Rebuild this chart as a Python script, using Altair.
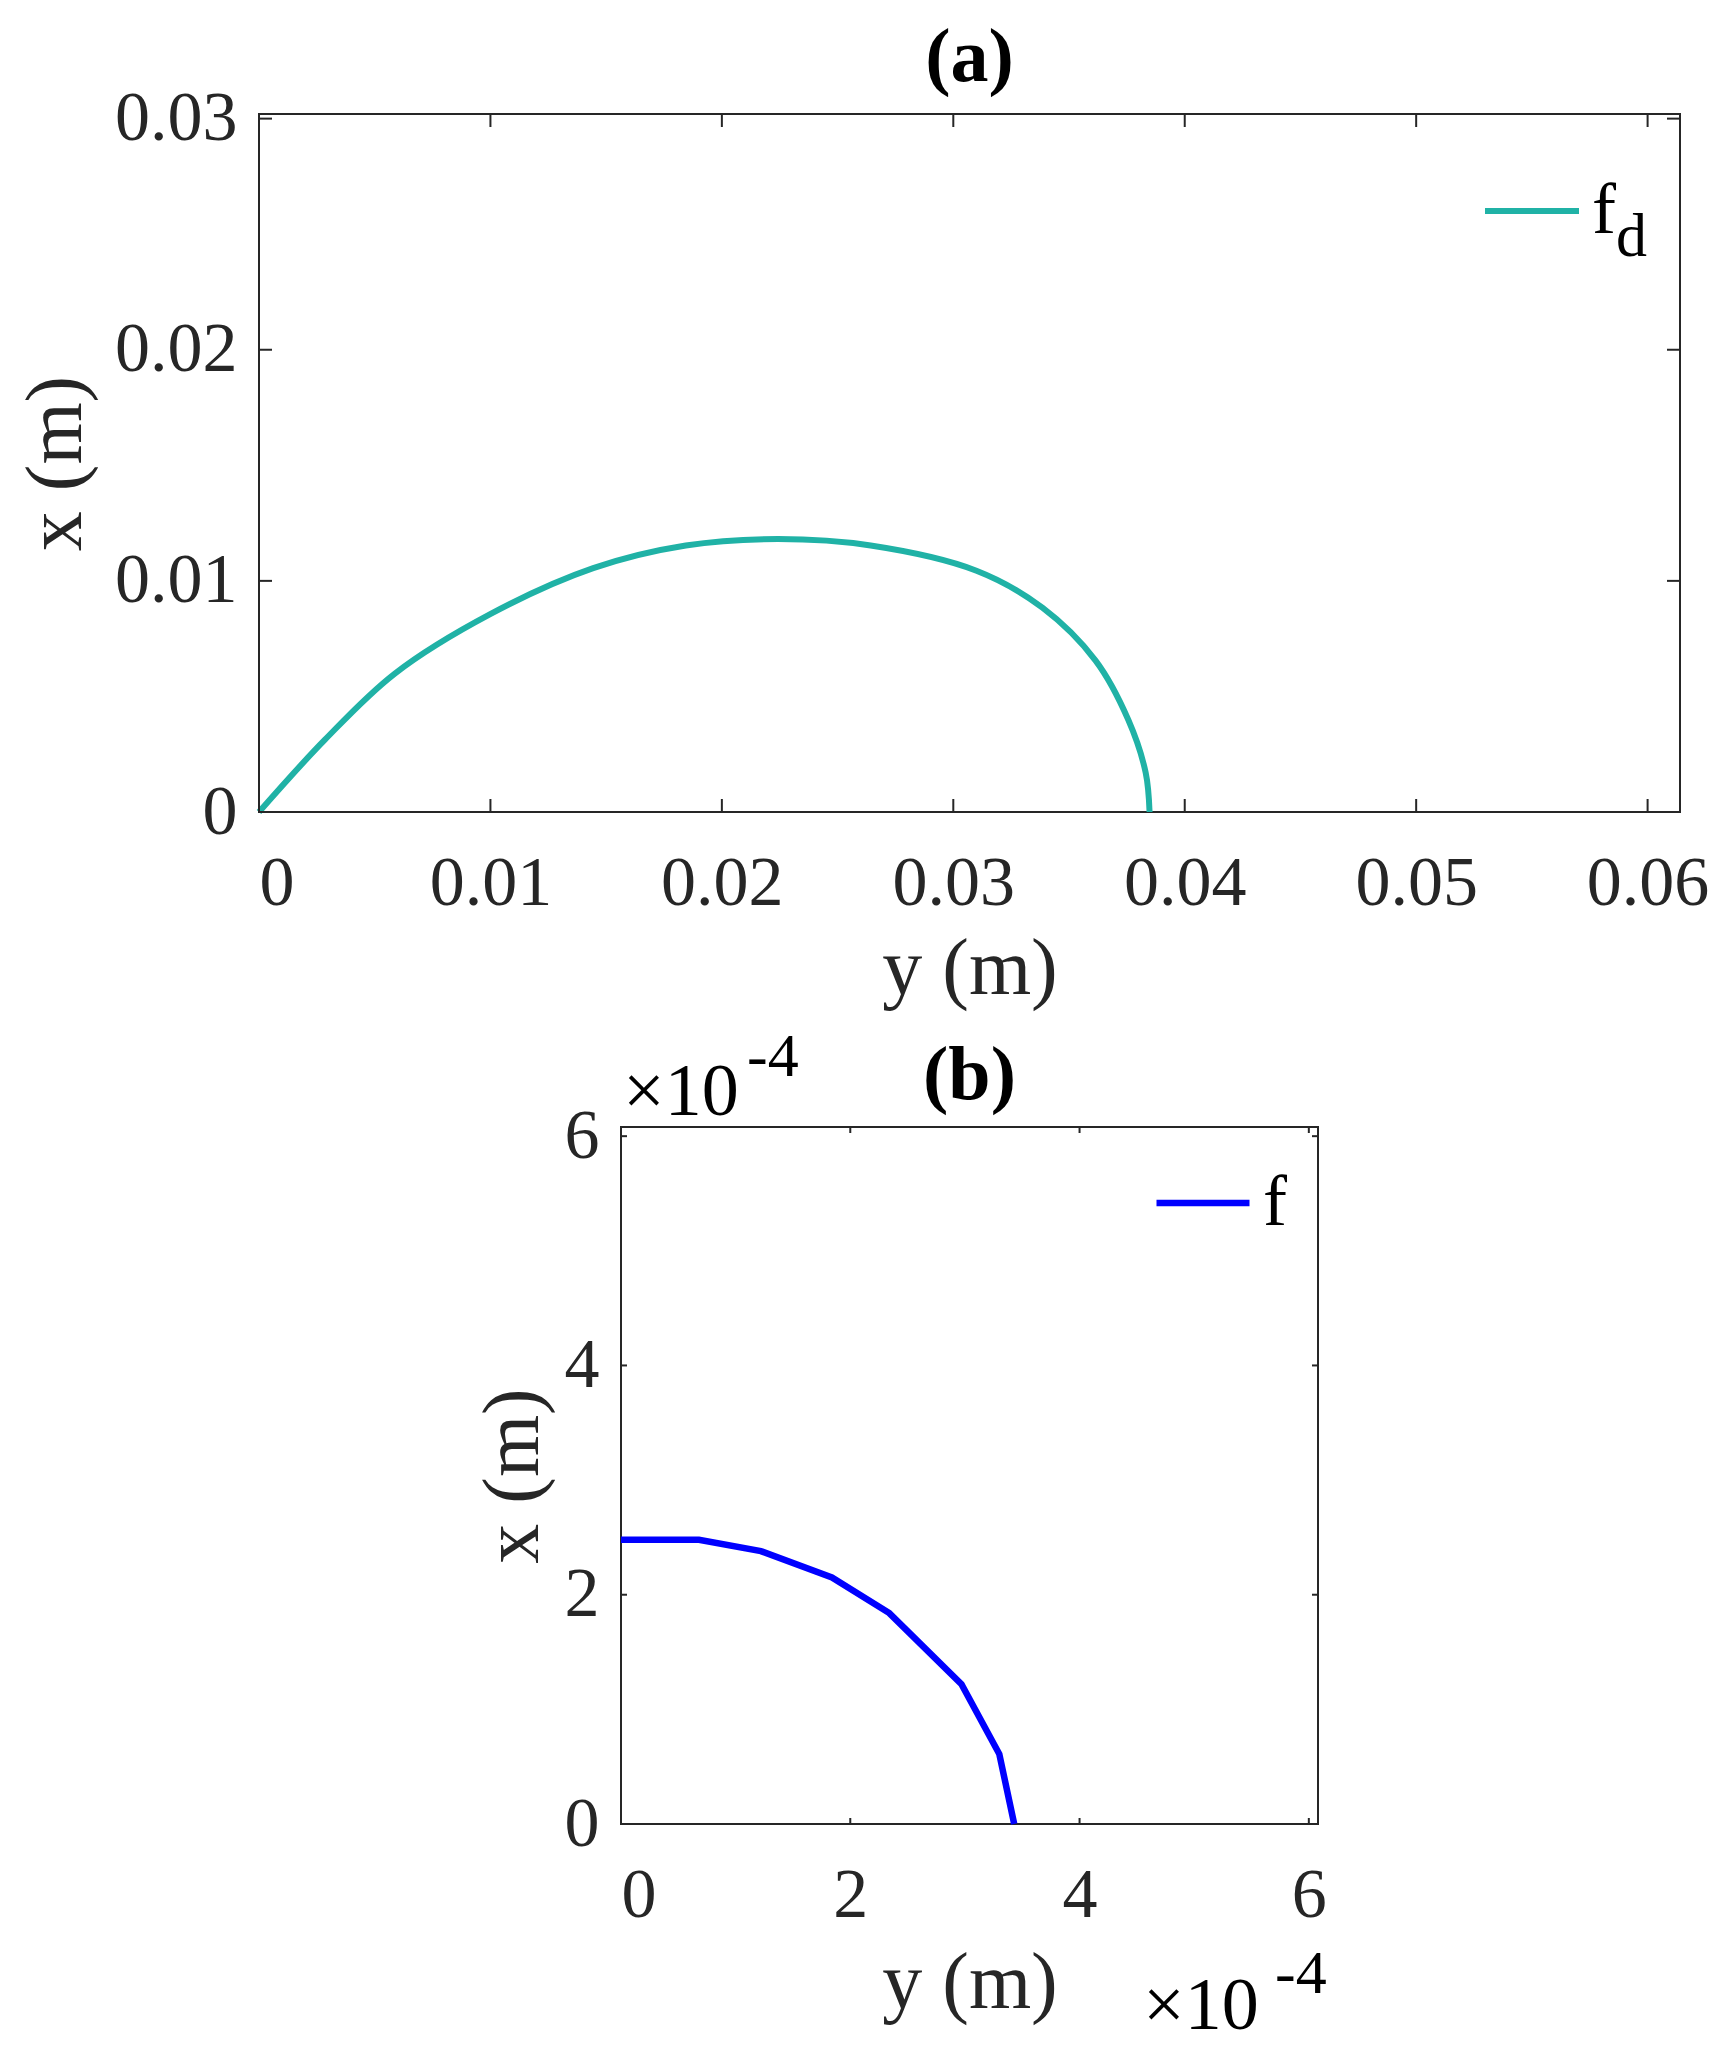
import altair as alt
import pandas as pd

FONT = "Liberation Serif"
INK = "#262626"

# ---------------- Panel (a): f_d ----------------
a_h = [0, 0.00285, 0.00587, 0.00999, 0.01444, 0.01844, 0.02243, 0.02643,
       0.0310, 0.03385, 0.03614, 0.03756, 0.03831, 0.03848]          # horizontal: y (m)
a_v = [0, 0.00313, 0.00599, 0.00856, 0.01055, 0.01153, 0.01181, 0.01153,
       0.01044, 0.00884, 0.00656, 0.00399, 0.00171, 0]               # vertical: x (m)
a_xticks = [0, 0.01, 0.02, 0.03, 0.04, 0.05, 0.06]
a_yticks = [0, 0.01, 0.02, 0.03]
a_xdom = [0, 0.0614]
a_ydom = [0, 0.0302]

# ---------------- Panel (b): f ----------------
b_h = [0, 0.68e-4, 1.22e-4, 1.84e-4, 2.34e-4, 2.97e-4, 3.30e-4, 3.43e-4]
b_v = [2.48e-4, 2.48e-4, 2.38e-4, 2.15e-4, 1.84e-4, 1.22e-4, 0.61e-4, 0]
b_ticks = [0, 2e-4, 4e-4, 6e-4]
b_dom = [0, 6.08e-4]

AW, AH = 1421, 698
BW, BH = 697, 697
FS = 70      # tick label size
TS = 80      # axis title size
HS = 76      # panel heading size

A_LABEL = "datum.value == 0 ? '0' : format(datum.value, '.2f')"
B_LABEL = "format(datum.value * 1e4, 'd')"


def make_axis(values, title, expr, horizontal, W, H, pad, tpos):
    common = dict(values=values, title=title, labelExpr=expr, domain=False, ticks=False,
                  tickSize=0, grid=False, labelPadding=pad, labelFontSize=FS, labelFont=FONT,
                  labelColor=INK, labelOverlap=False, titleFont=FONT, titleFontSize=TS,
                  titleFontWeight="normal", titleColor=INK, titleBaseline="alphabetic",
                  titleAlign="center")
    if horizontal:
        return alt.Axis(titleX=W / 2, titleY=tpos, **common)
    return alt.Axis(titleX=tpos, titleY=H / 2, titleAngle=270, **common)


def tick_layers(xs, ys, xax, yax, xticks, yticks, W, H, L):
    dx = pd.DataFrame({"h": xticks})
    dy = pd.DataFrame({"v": yticks})
    base_x = alt.Chart(dx).mark_rule(color=INK, strokeWidth=2)
    base_y = alt.Chart(dy).mark_rule(color=INK, strokeWidth=2)
    bottom = base_x.encode(x=alt.X("h:Q", scale=xs, axis=xax), y=alt.value(H), y2=alt.value(H - L))
    top = base_x.encode(x=alt.X("h:Q", scale=xs, axis=xax), y=alt.value(0), y2=alt.value(L))
    left = base_y.encode(y=alt.Y("v:Q", scale=ys, axis=yax), x=alt.value(0), x2=alt.value(L))
    right = base_y.encode(y=alt.Y("v:Q", scale=ys, axis=yax), x=alt.value(W), x2=alt.value(W - L))
    return [bottom, top, left, right]


def text_layer(txt, x, y, size, align="left", baseline="alphabetic", weight="normal"):
    return alt.Chart(pd.DataFrame({"s": [txt]})).mark_text(
        font=FONT, fontSize=size, color="black", align=align, baseline=baseline, fontWeight=weight
    ).encode(x=alt.value(x), y=alt.value(y), text="s:N")


# ----- panel (a) -----
df_a = pd.DataFrame({"h": a_h, "v": a_v, "i": list(range(len(a_h))), "series": ["f_d"] * len(a_h)})
xs_a = alt.Scale(domain=a_xdom, nice=False, zero=False)
ys_a = alt.Scale(domain=a_ydom, nice=False, zero=False)
xax_a = make_axis(a_xticks, "y (m)", A_LABEL, True, AW, AH, 37, 181)
yax_a = make_axis(a_yticks, "x (m)", A_LABEL, False, AW, AH, 22, -179)

line_a = alt.Chart(df_a).mark_line(strokeWidth=6, interpolate="catmull-rom").encode(
    x=alt.X("h:Q", scale=xs_a, axis=xax_a),
    y=alt.Y("v:Q", scale=ys_a, axis=yax_a),
    color=alt.Color("series:N", scale=alt.Scale(domain=["f_d"], range=["#20b2a6"]), legend=alt.Legend(
        orient="none", legendX=1223, legendY=47, title=None, symbolType="stroke",
        symbolSize=94 * 94, symbolStrokeWidth=6, labelFont=FONT, labelFontSize=72,
        labelColor="black", labelExpr="'f'", padding=0, labelOffset=10)),
    order="i:Q",
)

panel_a = alt.layer(
    line_a,
    *tick_layers(xs_a, ys_a, xax_a, yax_a, a_xticks, a_yticks, AW, AH, 13),
    text_layer("d", 1357, 142, 62),
    text_layer("(a)", AW / 2, -33, HS, align="center", weight="bold"),
).properties(width=AW, height=AH)

# ----- panel (b) -----
df_b = pd.DataFrame({"h": b_h, "v": b_v, "i": list(range(len(b_h))), "series": ["f"] * len(b_h)})
xs_b = alt.Scale(domain=b_dom, nice=False, zero=False)
ys_b = alt.Scale(domain=b_dom, nice=False, zero=False)
xax_b = make_axis(b_ticks, "y (m)", B_LABEL, True, BW, BH, 37, 183)
yax_b = make_axis(b_ticks, "x (m)", B_LABEL, False, BW, BH, 22, -84)

line_b = alt.Chart(df_b).mark_line(strokeWidth=6.5).encode(
    x=alt.X("h:Q", scale=xs_b, axis=xax_b),
    y=alt.Y("v:Q", scale=ys_b, axis=yax_b),
    color=alt.Color("series:N", scale=alt.Scale(domain=["f"], range=["#0000ff"]), legend=alt.Legend(
        orient="none", legendX=532, legendY=26, title=None, symbolType="stroke",
        symbolSize=93 * 93, symbolStrokeWidth=6.5, labelFont=FONT, labelFontSize=72,
        labelColor="black", padding=0, labelOffset=10)),
    order="i:Q",
)

panel_b = alt.layer(
    line_b,
    *tick_layers(xs_b, ys_b, xax_b, yax_b, b_ticks, b_ticks, BW, BH, 6),
    text_layer("\u00d710", 2, -12, 74),
    text_layer("-4", 126, -51, 62),
    text_layer("\u00d710", 522, 902, 74),
    text_layer("-4", 654, 866, 62),
    text_layer("(b)", BW / 2, -28, HS, align="center", weight="bold"),
).properties(width=BW, height=BH)

chart = alt.vconcat(panel_a, panel_b, spacing=315, center=True, bounds="flush").resolve_scale(
    color="independent", x="independent", y="independent"
).resolve_legend(color="independent").properties(
    padding={"left": 7, "top": 11, "right": 5, "bottom": 5},
    background="white",
).configure_view(
    stroke=INK, strokeWidth=2
)

chart.save("out.html", embed_options={"renderer": "svg", "actions": False})
